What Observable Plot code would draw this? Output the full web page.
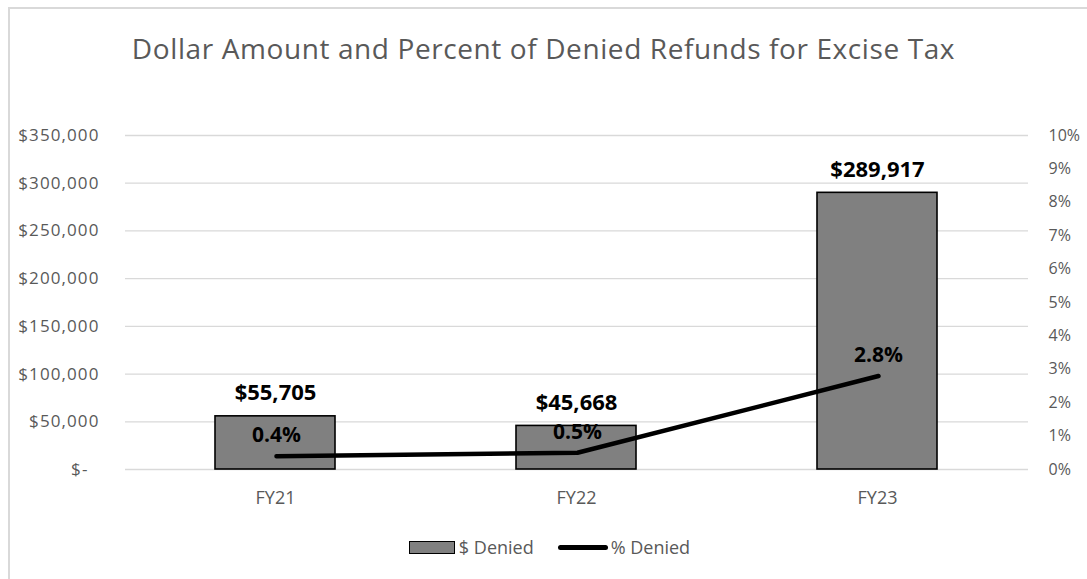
<!DOCTYPE html>
<html>
<head>
<meta charset="utf-8">
<script src="https://cdn.jsdelivr.net/npm/d3@7"></script>
<script src="https://cdn.jsdelivr.net/npm/@observablehq/plot@0.6"></script>
<style>
  html, body { margin: 0; padding: 0; background: #fff; }
  body { width: 1087px; height: 579px; position: relative; overflow: hidden; font-family: "Open Sans", sans-serif; }
  #frame { position: absolute; left: 8px; top: 7px; width: 1200px; height: 700px; border-left: 2px solid #d9d9d9; border-top: 2px solid #d9d9d9; }
  #title { position: absolute; left: 0; top: 29px; width: 1087px; text-align: center; font-size: 28px; color: #595959; letter-spacing: 0.6px; }
  .layer { position: absolute; left: 0; top: 0; }
  #chart1 g[aria-label="y-axis tick label"] text { letter-spacing: 1.1px; }
  #legend { position: absolute; top: 535px; left: 6px; width: 1087px; display: flex; justify-content: center; align-items: center; font-size: 18px; color: #595959; }
  .sw-bar { display: inline-block; width: 44px; height: 11px; background: #808080; border: 1.5px solid #000; margin-right: 4px; }
  .sw-line { display: inline-block; width: 50px; height: 5px; background: #000; border-radius: 3px; margin-right: 3px; }
  .item { display: flex; align-items: center; margin: 0 12px; }
</style>
</head>
<body>
<div id="frame"></div>
<div id="title">Dollar Amount and Percent of Denied Refunds for Excise Tax</div>
<div id="chart1" class="layer"></div>
<div id="chart2" class="layer"></div>
<div id="legend">
  <div class="item"><span class="sw-bar"></span>$ Denied</div>
  <div class="item"><span class="sw-line"></span>% Denied</div>
</div>
<script>
const categories = ["FY21", "FY22", "FY23"];
const dollarsDenied = [55705, 45668, 289917];
const percentDenied = [0.4, 0.5, 2.8];
const dollarTicks = [0, 50000, 100000, 150000, 200000, 250000, 300000, 350000];
const percentTicks = [0, 1, 2, 3, 4, 5, 6, 7, 8, 9, 10];

const data = categories.map((c, i) => ({cat: c, amt: dollarsDenied[i], pct: percentDenied[i]}));
const fmt = d3.format(",");

const common = {
  width: 1087, height: 510,
  marginTop: 135, marginBottom: 41, marginLeft: 125, marginRight: 59,
  style: {fontFamily: "'Open Sans', sans-serif", color: "#595959", background: "transparent"}
};

const p1 = Plot.plot({
  ...common,
  x: {domain: categories, paddingInner: 0.6, paddingOuter: 0.3, label: null},
  y: {domain: [0, 350000], label: null},
  marks: [
    Plot.gridY(dollarTicks, {stroke: "#d9d9d9", strokeOpacity: 1, strokeWidth: 1.3}),
    Plot.barY(data, {x: "cat", y: "amt", fill: "#808080", stroke: "#000", strokeWidth: 1.6}),
    Plot.text(data, {x: "cat", y: "amt", text: d => "$" + fmt(d.amt), dy: -23, fontWeight: "bold", fontSize: 22, fill: "#000"}),
    Plot.axisY(dollarTicks, {tickSize: 0, tickPadding: 26, fontSize: 17, label: null,
      tickFormat: d => d === 0 ? "$-\u00a0\u00a0" : "$" + fmt(d)}),
    Plot.axisX({tickSize: 0, tickPadding: 22, fontSize: 18, label: null})
  ]
});
document.getElementById("chart1").appendChild(p1);

const p2 = Plot.plot({
  ...common,
  x: {domain: categories, paddingInner: 0.6, paddingOuter: 0.3, axis: null},
  y: {domain: [0, 10], axis: null},
  marks: [
    Plot.lineY(data, {x: "cat", y: "pct", stroke: "#000", strokeWidth: 4.5, strokeLinecap: "round"}),
    Plot.text(data, {x: "cat", y: "pct", text: d => d.pct.toFixed(1) + "%", dy: -21, fontWeight: "bold", fontSize: 21, fill: "#000"}),
    Plot.axisY(percentTicks, {anchor: "right", tickSize: 0, tickPadding: 20, fontSize: 16, label: null, tickFormat: d => d + "%"})
  ]
});
document.getElementById("chart2").appendChild(p2);
</script>
</body>
</html>
